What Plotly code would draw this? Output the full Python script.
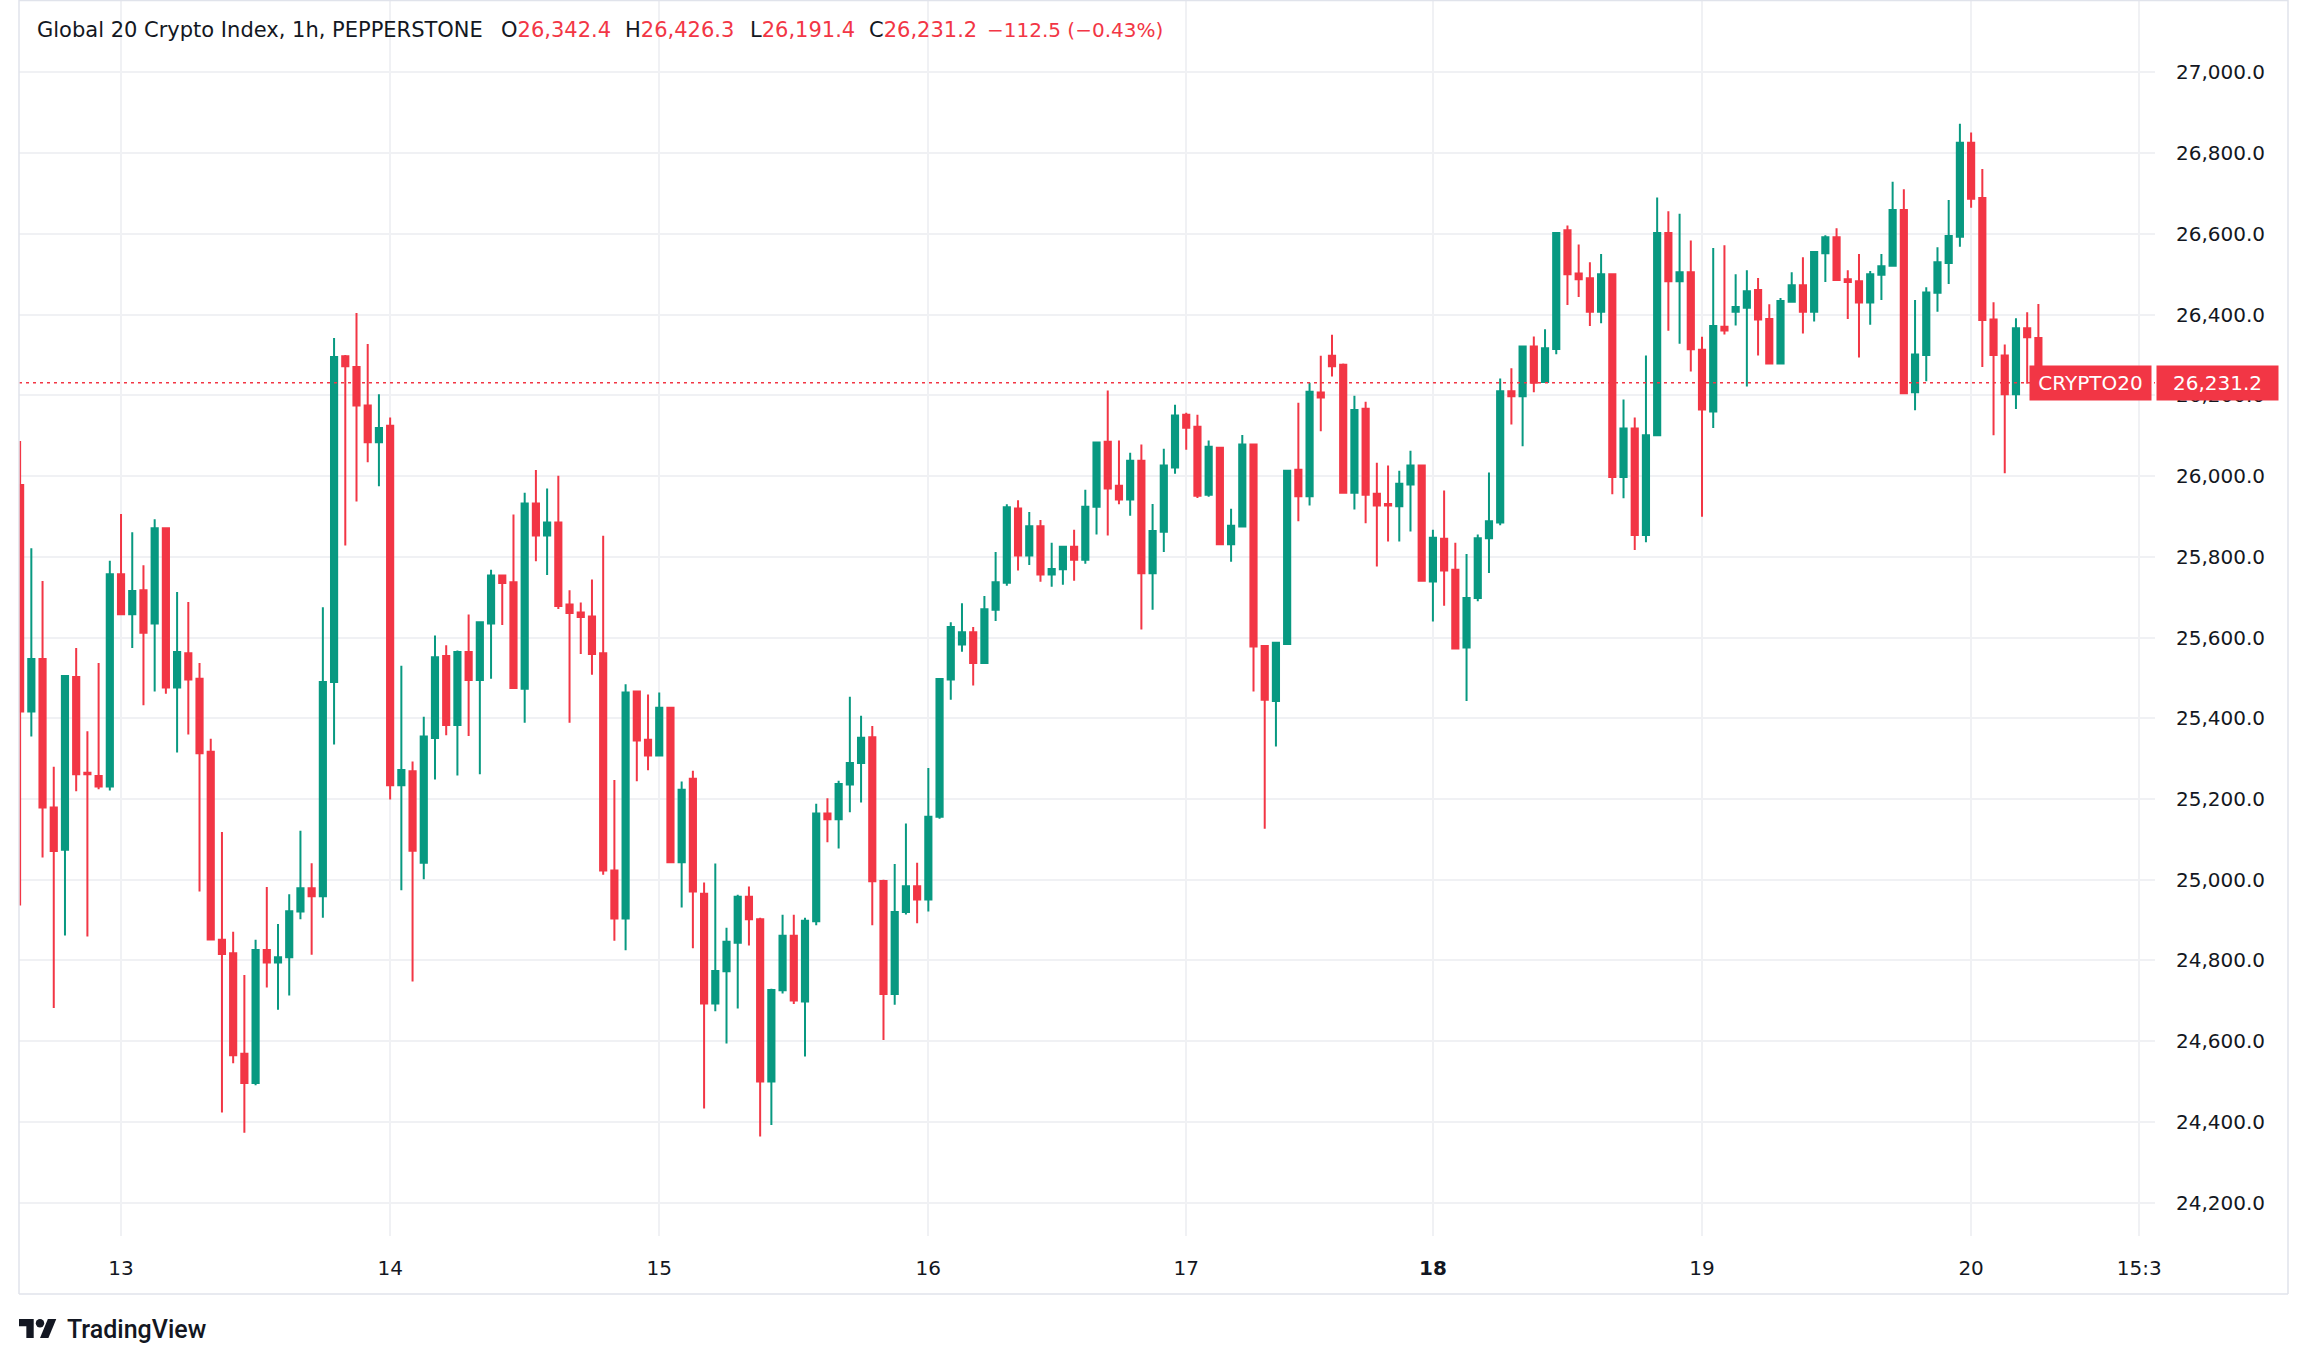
import plotly.graph_objects as go

# ---------------- data (hourly candles, index 1..181) ----------------
bar_index = list(range(1, 182))

opens = [25978, 25417, 25547, 25179, 25074, 25502, 25265, 25257, 25231, 25757,
         25658, 25717, 25635, 25871, 25476, 25561, 25498, 25317, 24851, 24818,
         24569, 24496, 24826, 24795, 24808, 24921, 24979, 24959, 25490, 26297,
         26270, 26175, 26084, 26125, 25234, 25269, 25042, 25351, 25554, 25383,
         25564, 25495, 25635, 25754, 25737, 25473, 25932, 25853, 25885, 25682,
         25662, 25652, 25561, 25023, 24904, 25466, 25347, 25308, 25426, 25043,
         25250, 24965, 24693, 24773, 24844, 24958, 24902, 24500, 24726, 24861,
         24698, 24897, 25164, 25150, 25236, 25289, 25353, 24997, 24717, 24920,
         24984, 24951, 25156, 25496, 25583, 25613, 25537, 25669, 25736, 25920,
         25803, 25876, 25756, 25769, 25825, 25793, 25924, 26085, 25976, 25942,
         26038, 25759, 25862, 26021, 26152, 26122, 25954, 26070, 25831, 25875,
         26078, 25579, 25443, 25584, 26016, 25950, 26207, 26298, 26276, 25959,
         26167, 25956, 25931, 25925, 25979, 26026, 25739, 25845, 25768, 25575,
         25698, 25846, 25885, 26210, 26198, 26321, 26233, 26315, 26609, 26502,
         26490, 26407, 26500, 25998, 26118, 25854, 26101, 26602, 26483, 26505,
         26313, 26160, 26370, 26407, 26417, 26461, 26389, 26279, 26432, 26473,
         26407, 26552, 26592, 26488, 26483, 26430, 26499, 26521, 26659, 26208,
         26300, 26454, 26528, 26593, 26826, 26689, 26388, 26299, 26203, 26366,
         26342.4]
highs = [26087, 25821, 25740, 25280, 25505, 25574, 25368, 25537, 25790, 25906,
         25861, 25779, 25893, 25871, 25713, 25688, 25537, 25349, 25118, 24871,
         24764, 24851, 24982, 24890, 24964, 25121, 25041, 25675, 26342, 26300,
         26404, 26327, 26203, 26145, 25530, 25293, 25404, 25605, 25581, 25568,
         25657, 25638, 25768, 25754, 25905, 25959, 26015, 25969, 26001, 25717,
         25687, 25744, 25852, 25247, 25484, 25466, 25459, 25464, 25426, 25243,
         25270, 24993, 25040, 24881, 24963, 24983, 24906, 24730, 24913, 24913,
         24906, 25188, 25202, 25245, 25453, 25406, 25381, 25000, 25039, 25139,
         25042, 25277, 25497, 25638, 25685, 25626, 25703, 25812, 25930, 25940,
         25911, 25891, 25835, 25825, 25867, 25966, 26085, 26212, 26088, 26058,
         26078, 25931, 26068, 26177, 26157, 26152, 26088, 26072, 25919, 26102,
         26078, 25579, 25589, 26013, 26182, 26231, 26298, 26350, 26279, 26199,
         26184, 26033, 26026, 26013, 26063, 26028, 25867, 25964, 25835, 25807,
         25855, 26009, 26242, 26267, 26321, 26346, 26364, 26602, 26621, 26574,
         26530, 26550, 26500, 26190, 26145, 26299, 26690, 26656, 26650, 26584,
         26345, 26565, 26572, 26500, 26510, 26491, 26426, 26441, 26505, 26542,
         26555, 26597, 26614, 26510, 26550, 26508, 26550, 26729, 26711, 26436,
         26468, 26567, 26684, 26873, 26851, 26761, 26431, 26326, 26391, 26406,
         26426.3]
lows = [24936, 25355, 25055, 24682, 24862, 25219, 24859, 25224, 25221, 25655,
        25574, 25432, 25466, 25461, 25315, 25360, 24971, 24852, 24423, 24545,
        24373, 24491, 24733, 24678, 24713, 24902, 24814, 24906, 25335, 25828,
        25937, 26034, 25975, 25199, 24974, 24748, 25001, 25248, 25358, 25258,
        25356, 25261, 25498, 25631, 25475, 25389, 25789, 25755, 25671, 25389,
        25559, 25508, 25012, 24849, 24825, 25244, 25271, 25308, 25043, 24931,
        24830, 24433, 24674, 24594, 24681, 24837, 24364, 24392, 24718, 24692,
        24562, 24887, 25093, 25077, 25167, 25191, 24887, 24603, 24690, 24914,
        24892, 24921, 25151, 25446, 25565, 25481, 25535, 25641, 25728, 25766,
        25780, 25738, 25726, 25731, 25741, 25783, 25855, 25853, 25930, 25902,
        25620, 25669, 25812, 26006, 26065, 25946, 25949, 25831, 25788, 25875,
        25466, 25126, 25330, 25584, 25888, 25927, 26111, 26247, 25956, 25917,
        25883, 25776, 25838, 25838, 25863, 25739, 25640, 25679, 25573, 25443,
        25690, 25760, 25878, 26128, 26074, 26208, 26233, 26302, 26424, 26444,
        26372, 26379, 25955, 25945, 25817, 25836, 26101, 26360, 26328, 26259,
        25899, 26119, 26351, 26373, 26222, 26299, 26279, 26277, 26432, 26353,
        26383, 26481, 26486, 26389, 26294, 26375, 26436, 26521, 26205, 26163,
        26235, 26407, 26476, 26568, 26665, 26270, 26101, 26007, 26166, 26229,
        26191.4]
closes = [25417, 25547, 25179, 25071, 25505, 25261, 25261, 25231, 25757, 25658,
          25715, 25612, 25871, 25476, 25564, 25496, 25313, 24852, 24816, 24565,
          24496, 24826, 24795, 24808, 24922, 24979, 24959, 25490, 26295, 26272,
          26175, 26084, 26119, 25234, 25272, 25072, 25355, 25551, 25383, 25564,
          25495, 25638, 25754, 25735, 25475, 25932, 25853, 25885, 25678, 25661,
          25651, 25559, 25023, 24904, 25464, 25345, 25308, 25426, 25043, 25223,
          24971, 24693, 24774, 24846, 24958, 24902, 24500, 24727, 24861, 24701,
          24898, 25164, 25150, 25237, 25289, 25352, 24996, 24717, 24920, 24984,
          24951, 25156, 25497, 25626, 25613, 25537, 25670, 25737, 25923, 25803,
          25876, 25756, 25770, 25825, 25793, 25924, 26083, 25969, 25942, 26038,
          25759, 25864, 26026, 26150, 26120, 25951, 26073, 25831, 25877, 26078,
          25578, 25446, 25587, 26013, 25950, 26209, 26195, 26272, 25959, 26164,
          25954, 25927, 25927, 25981, 26026, 25741, 25847, 25766, 25573, 25698,
          25846, 25888, 26210, 26198, 26321, 26231, 26317, 26602, 26500, 26488,
          26407, 26500, 25998, 26118, 25854, 26101, 26602, 26483, 26505, 26314,
          26165, 26372, 26361, 26419, 26458, 26388, 26279, 26434, 26473, 26407,
          26555, 26592, 26486, 26481, 26430, 26500, 26520, 26659, 26205, 26301,
          26455, 26530, 26595, 26826, 26687, 26387, 26300, 26203, 26366, 26343.7,
          26231.2]

x_tickvals = [10, 34, 58, 82, 105, 127, 151, 175, 190]
x_ticktext = ["13", "14", "15", "16", "17", "<b>18</b>", "19", "20", "15:3"]
y_tickvals = list(range(24200, 27001, 200))
y_ticktext = [f"{v:,.1f}" for v in y_tickvals]

symbol_name = "CRYPTO20"
title_text = "Global 20 Crypto Index, 1h, PEPPERSTONE"
ohlc_labels = ["O", "H", "L", "C"]
ohlc_values = ["26,342.4", "26,426.3", "26,191.4", "26,231.2"]
change_text = "\u2212112.5 (\u22120.43%)"
last_price = 26231.2

# ---------------- styling ----------------
W, H = 2308, 1364
PL, PR, PT, PB = 19, 2155, 0, 1236          # plot-area pixel box
GREEN = "#089981"
RED = "#F23645"
TEXT = "#131722"
GRID = "#F0F1F4"
FRAME = "#E0E3EB"
FONT = "DejaVu Sans"


def xp(px):
    return (px - PL) / (PR - PL)


def yp(py):
    return 1 - (py - PT) / (PB - PT)


fig = go.Figure()
fig.add_trace(go.Candlestick(
    x=bar_index, open=opens, high=highs, low=lows, close=closes,
    increasing=dict(line=dict(color=GREEN, width=2), fillcolor=GREEN),
    decreasing=dict(line=dict(color=RED, width=2), fillcolor=RED),
    whiskerwidth=0, hoverinfo="skip", showlegend=False,
))

shapes = []
# last price dotted line
shapes.append(dict(type="line", xref="paper", yref="y", x0=0, x1=1,
                   y0=last_price, y1=last_price, layer="above",
                   line=dict(color=RED, width=1.5, dash="3px,4px")))
# outer frame
frame_bottom = 1294
frame_right = 2288
for (a, b, c, d) in [(PL, 0.5, frame_right, 0.5), (PL, frame_bottom, frame_right, frame_bottom),
                     (PL, 0, PL, frame_bottom), (frame_right, 0, frame_right, frame_bottom)]:
    shapes.append(dict(type="line", xref="paper", yref="paper",
                       x0=xp(a), y0=yp(b), x1=xp(c), y1=yp(d),
                       line=dict(color=FRAME, width=1.5), layer="above"))

# TradingView logo (approximation of the mark)
s = 1.05
ox, oy = 19, 1319 - 4 * s


def P(x, y):
    return f"{xp(ox + x * s):.6f},{yp(oy + y * s):.6f}"


logo_t = f"M{P(0,4)} L{P(14,4)} L{P(14,22)} L{P(7,22)} L{P(7,11)} L{P(0,11)} Z"
logo_v = f"M{P(28,22)} L{P(20,22)} L{P(27.5,4)} L{P(35.5,4)} Z"
shapes.append(dict(type="path", xref="paper", yref="paper", path=logo_t,
                   fillcolor=TEXT, line=dict(width=0)))
shapes.append(dict(type="path", xref="paper", yref="paper", path=logo_v,
                   fillcolor=TEXT, line=dict(width=0)))
shapes.append(dict(type="circle", xref="paper", yref="paper",
                   x0=xp(ox + 16 * s), x1=xp(ox + 24 * s),
                   y0=yp(oy + 4 * s), y1=yp(oy + 12 * s),
                   fillcolor=TEXT, line=dict(width=0)))

annotations = []
hy = yp(29.5)
annotations.append(dict(text=title_text, xref="paper", yref="paper", x=xp(35), y=hy,
                        xanchor="left", yanchor="middle", showarrow=False,
                        font=dict(family=FONT, size=21, color=TEXT)))
for lab, val, px in zip(ohlc_labels, ohlc_values, [499, 623, 748, 867]):
    annotations.append(dict(text=f"{lab}<span style='color:{RED}'>{val}</span>",
                            xref="paper", yref="paper", x=xp(px), y=hy,
                            xanchor="left", yanchor="middle", showarrow=False,
                            font=dict(family=FONT, size=21, color=TEXT)))
annotations.append(dict(text=change_text, xref="paper", yref="paper", x=xp(985), y=hy,
                        xanchor="left", yanchor="middle", showarrow=False,
                        font=dict(family=FONT, size=20, color=RED)))
# price labels
annotations.append(dict(text=symbol_name, xref="paper", yref="y", x=1, y=last_price,
                        xanchor="right", yanchor="middle", xshift=-3, showarrow=False,
                        bgcolor=RED, width=121, height=34, borderpad=0,
                        font=dict(family=FONT, size=20, color="white")))
annotations.append(dict(text=f"{last_price:,.1f}", xref="paper", yref="y", x=1, y=last_price,
                        xanchor="left", yanchor="middle", xshift=1, showarrow=False,
                        bgcolor=RED, width=121, height=34, borderpad=0,
                        font=dict(family=FONT, size=20, color="white")))
# TradingView wordmark
annotations.append(dict(text="TradingView", xref="paper", yref="paper", x=xp(65), y=yp(1329),
                        xanchor="left", yanchor="middle", showarrow=False,
                        font=dict(family="Roboto", size=25, color=TEXT, weight=500)))

fig.update_layout(
    width=W, height=H, autosize=False,
    margin=dict(l=PL, r=W - PR, t=PT, b=H - PB, pad=0),
    paper_bgcolor="white", plot_bgcolor="white",
    boxgap=0.45, boxgroupgap=0,
    shapes=shapes, annotations=annotations,
    font=dict(family=FONT, size=20, color=TEXT),
    xaxis=dict(range=[0.9, 191.4], tickvals=x_tickvals, ticktext=x_ticktext,
               showgrid=True, gridcolor=GRID, gridwidth=1.5, zeroline=False,
               showline=False, ticks="", ticklabelstandoff=18,
               tickfont=dict(family=FONT, size=20, color=TEXT),
               rangeslider=dict(visible=False), fixedrange=True),
    yaxis=dict(range=[24117.2, 27179.6], side="right", tickvals=y_tickvals,
               ticktext=y_ticktext, showgrid=True, gridcolor=GRID, gridwidth=1.5,
               zeroline=False, showline=False, ticks="", ticklabelstandoff=20,
               tickfont=dict(family=FONT, size=20, color=TEXT), fixedrange=True),
    hovermode=False,
)

fig.write_html("out.html", config={"displayModeBar": False},
               post_script="document.body.style.margin='0';document.body.style.overflow='hidden';")
